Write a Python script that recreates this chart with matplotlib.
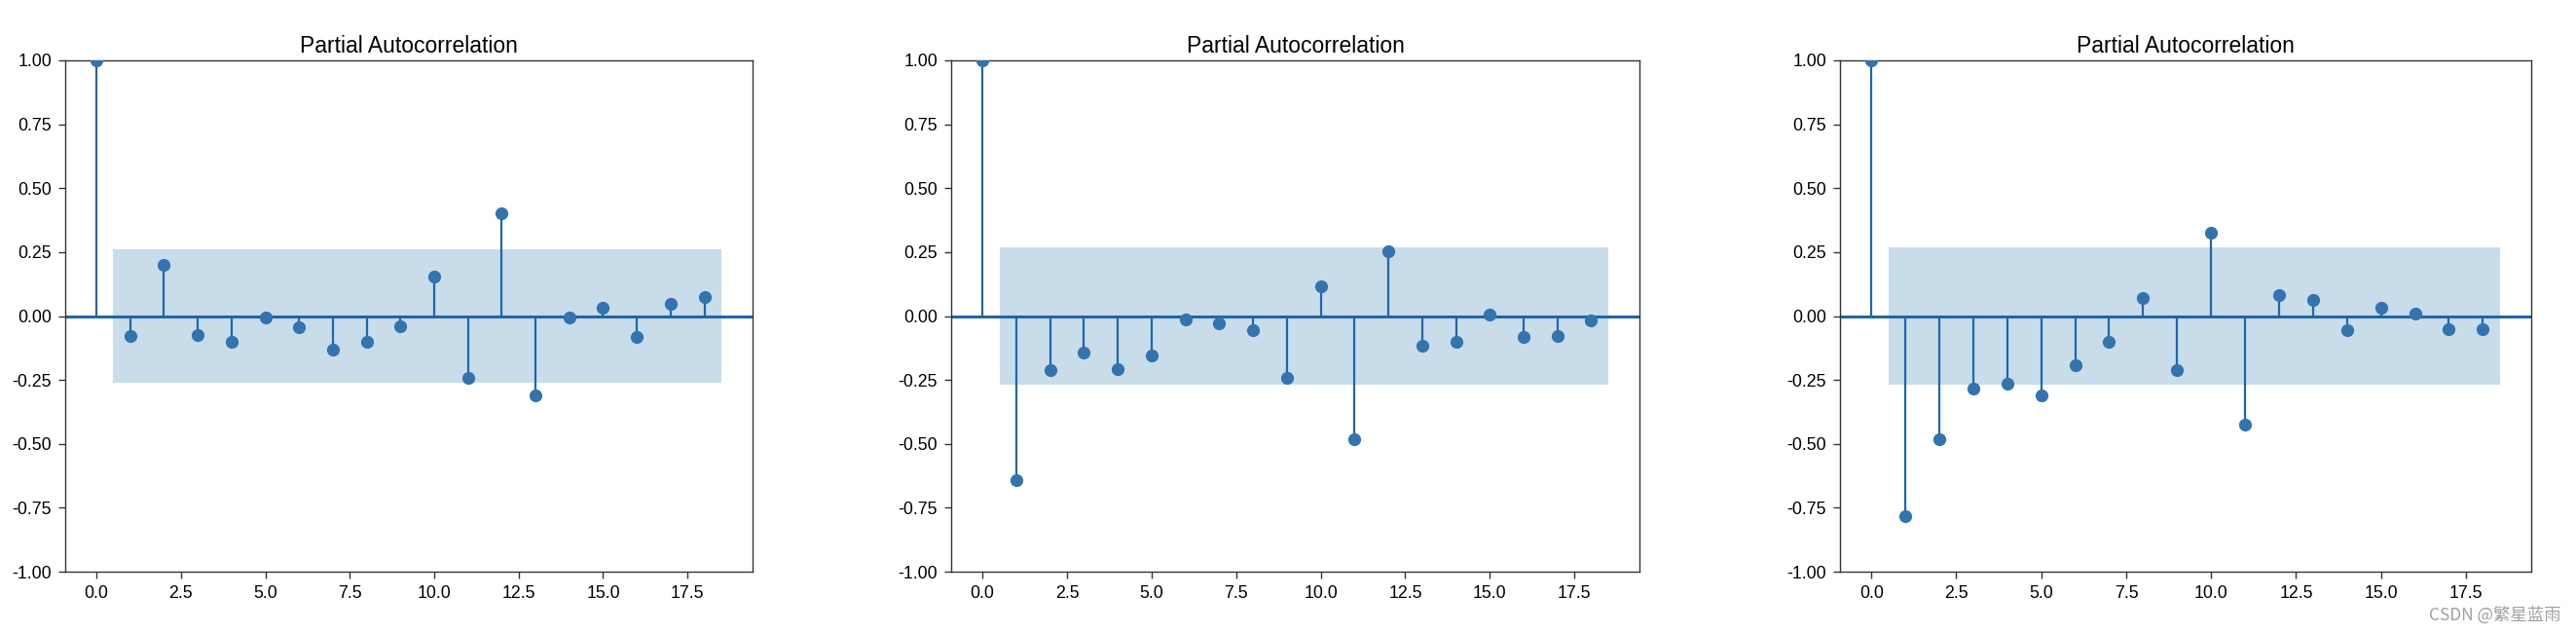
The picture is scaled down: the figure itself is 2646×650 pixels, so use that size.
import matplotlib
matplotlib.use("Agg")
import matplotlib.pyplot as plt
import numpy as np

plt.rcParams['font.family'] = ['Liberation Sans', 'DejaVu Sans']
plt.rcParams['axes.unicode_minus'] = False

lags = np.arange(19)

# valores (pacf de las tres series)
pacf_1 = [1.0, -0.079, 0.199, -0.073, -0.100, -0.006, -0.044, -0.131, -0.100, -0.039,
          0.155, -0.240, 0.401, -0.310, -0.006, 0.032, -0.082, 0.049, 0.074]
pacf_2 = [1.0, -0.643, -0.213, -0.142, -0.208, -0.153, -0.013, -0.028, -0.055, -0.240,
          0.118, -0.483, 0.253, -0.115, -0.100, 0.006, -0.082, -0.077, -0.017]
pacf_3 = [1.0, -0.782, -0.483, -0.283, -0.265, -0.310, -0.191, -0.100, 0.070, -0.213,
          0.324, -0.425, 0.081, 0.063, -0.055, 0.032, 0.011, -0.051, -0.051]
intervalo = [0.262, 0.268, 0.268]

series = [pacf_1, pacf_2, pacf_3]
titulo = "Partial Autocorrelation"
yticks = [-1.0, -0.75, -0.5, -0.25, 0.0, 0.25, 0.5, 0.75, 1.0]

W, H = 2646, 650
fig = plt.figure(figsize=(W / 100, H / 100), dpi=100)

izquierdas = [67, 977, 1890]
anchos = [706, 707, 710]
abajo = 587
alto = 525

linea = '#1f66ab'
punto = '#3373ae'

for i, valores in enumerate(series):
    ax = fig.add_axes([izquierdas[i] / W, (H - abajo) / H, anchos[i] / W, alto / H])
    ax.vlines(lags, 0, valores, colors=linea, linewidth=1.6, zorder=3)
    ax.plot(lags, valores, 'o', color=punto, markersize=8.5, zorder=4)
    ax.axhline(0, color=linea, linewidth=2.2, zorder=2)
    ci = intervalo[i]
    xb = [0.5, 18.5]
    ax.fill_between(xb, [-ci, -ci], [ci, ci], color='#c9dcea', linewidth=0, zorder=1)
    ax.set_ylim(-1.0, 1.0)
    ax.set_yticks(yticks)
    ax.set_yticklabels(["%.2f" % v for v in yticks])
    ax.set_title(titulo, fontsize=16.5)
    ax.tick_params(labelsize=12.8, length=5, width=1, color='#333333', pad=5)
    for s in ax.spines.values():
        s.set_color('#333333')
        s.set_linewidth(1.0)

fig.text(0.994, 0.028, "CSDN @繁星蓝雨", ha='right', va='center', color='#a0a0a0',
         fontsize=12.5, family=['Noto Sans CJK SC', 'DejaVu Sans'])

plt.savefig("out.png", dpi=100)
